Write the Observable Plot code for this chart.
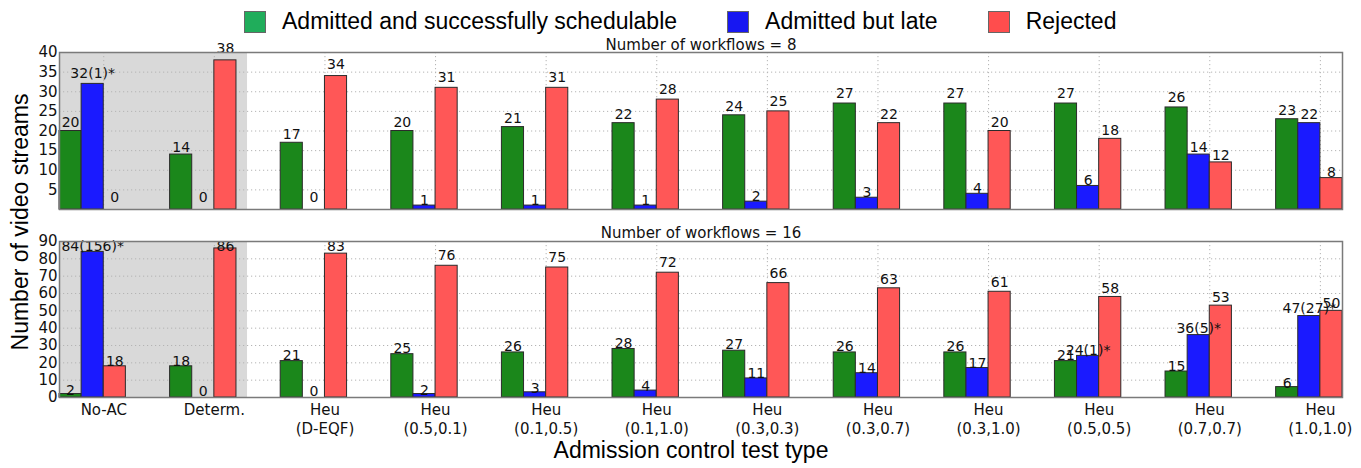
<!DOCTYPE html>
<html>
<head>
<meta charset="utf-8">
<script src="https://cdn.jsdelivr.net/npm/d3@7"></script>
<script src="https://cdn.jsdelivr.net/npm/@observablehq/plot@0.6"></script>
<style>
  html, body { margin: 0; padding: 0; background: #fff; overflow: hidden; }
  #root { position: relative; width: 1361px; height: 468px; background: #fff; }
  .panel { position: absolute; left: 0; }
  #legend { position: absolute; left: 244px; top: 8px; display: flex; align-items: center; gap: 50px;
            font-family: "Liberation Sans", Arial, sans-serif; font-size: 23px; color: #000; white-space: nowrap; }
  .item { display: flex; align-items: center; }
  .swatch { width: 22px; height: 22px; border: 1px solid #666; margin-right: 16px; box-sizing: border-box; }
  #ylabel { position: absolute; left: 20px; top: 222px; transform: translate(-50%, -50%) rotate(-90deg);
            font-family: "Liberation Sans", Arial, sans-serif; font-size: 23px; line-height: 1; white-space: nowrap; color: #000; }
</style>
</head>
<body>
<div id="root"></div>
<script>
// ---- data ----
const categories = ["No-AC", "Determ.", "Heu\n(D-EQF)", "Heu\n(0.5,0.1)", "Heu\n(0.1,0.5)", "Heu\n(0.1,1.0)",
  "Heu\n(0.3,0.3)", "Heu\n(0.3,0.7)", "Heu\n(0.3,1.0)", "Heu\n(0.5,0.5)", "Heu\n(0.7,0.7)", "Heu\n(1.0,1.0)"];
const seriesNames = ["Admitted and successfully schedulable", "Admitted but late", "Rejected"];
const shadedCategories = ["No-AC", "Determ."];

const wf8Admitted = [20, 14, 17, 20, 21, 22, 24, 27, 27, 27, 26, 23];
const wf8Late     = [32, 0, 0, 1, 1, 1, 2, 3, 4, 6, 14, 22];
const wf8Rejected = [0, 38, 34, 31, 31, 28, 25, 22, 20, 18, 12, 8];
const wf8LateLabels = ["32(1)*", null, null, null, null, null, null, null, null, null, null, null];

const wf16Admitted = [2, 18, 21, 25, 26, 28, 27, 26, 26, 21, 15, 6];
const wf16Late     = [84, 0, 0, 2, 3, 4, 11, 14, 17, 24, 36, 47];
const wf16Rejected = [18, 86, 83, 76, 75, 72, 66, 63, 61, 58, 53, 50];
const wf16LateLabels = ["84(156)*", null, null, null, null, null, null, null, null, "24(1)*", "36(5)*", "47(27)*"];

const panelTitles = ["Number of workflows = 8", "Number of workflows = 16"];
const wf8YTicks = [5, 10, 15, 20, 25, 30, 35, 40];
const wf16YTicks = [0, 10, 20, 30, 40, 50, 60, 70, 80, 90];
const xAxisLabel = "Admission control test type";
const yAxisLabel = "Number of video streams";

// ---- styling ----
const barColors = ["#1b871b", "#1a1aff", "#ff5757"];
const legendColors = ["#20ad5b", "#1717f2", "#ff4d4d"];
const barW = 0.2;
const W = 1361;

const root = document.getElementById("root");

function makePanel(opt) {
  const series = [opt.admitted, opt.late, opt.rejected];
  const rows = categories.flatMap((c, i) => series.map((arr, k) => ({
    i, k, series: seriesNames[k], value: arr[i],
    label: (k === 1 && opt.lateLabels[i]) ? opt.lateLabels[i] : String(arr[i])
  })));
  const tickPos = categories.map((c, i) => i + 2 * barW);
  const shade = [{from: categories.indexOf(shadedCategories[0]),
                  to: categories.indexOf(shadedCategories[shadedCategories.length - 1]) + 3.5 * barW}];
  const yMax = opt.yTicks[opt.yTicks.length - 1];
  const marks = [
    Plot.rect(shade, {x1: "from", x2: "to", y1: 0, y2: yMax, fill: "#d9d9d9"}),
    Plot.gridY(opt.yTicks, {stroke: "#b4b4b4", strokeOpacity: 1, strokeDasharray: "1.2,2.8"}),
    Plot.gridX(tickPos, {stroke: "#b4b4b4", strokeOpacity: 1, strokeDasharray: "1.2,2.8"}),
    Plot.rect(rows.filter(d => d.value > 0), {
      x1: d => d.i + d.k * barW, x2: d => d.i + (d.k + 1) * barW,
      y1: 0, y2: "value", fill: "series", stroke: "#2b2b2b", strokeWidth: 1
    }),
    Plot.text(rows, {
      x: d => d.i + (d.k + 0.5) * barW,
      y: d => d.value === 0 ? opt.zeroLift : Math.min(d.value * 1.05, opt.labelCap),
      text: "label", lineAnchor: "bottom", dy: opt.labelDy, fontSize: 14, fill: "#111"
    }),
    Plot.frame({stroke: "#7a7a7a", strokeWidth: 1.5}),
    Plot.axisY(opt.yTicks, {tickSize: 0, tickPadding: 2, fontSize: 15, label: null}),
    Plot.text([opt.title], {frameAnchor: "top", dy: opt.titleDy, lineAnchor: "bottom", fontSize: 15, fill: "#111"})
  ];
  if (opt.showX) {
    marks.push(Plot.axisX(tickPos, {
      tickSize: 0, tickPadding: 4, fontSize: 15, lineHeight: 1.27, label: null,
      tickFormat: d => categories[Math.round(d - 2 * barW)]
    }));
    marks.push(Plot.text([xAxisLabel], {
      frameAnchor: "bottom", dx: -10, dy: 60, lineAnchor: "bottom",
      fontSize: 23, fontFamily: "Liberation Sans, Arial, sans-serif", fill: "#000"
    }));
  } else {
    marks.push(Plot.axisX({ticks: [], label: null}));
  }
  const svg = Plot.plot({
    width: W, height: opt.height,
    marginLeft: 59, marginRight: 19, marginTop: opt.marginTop, marginBottom: opt.marginBottom,
    style: {fontFamily: "DejaVu Sans, sans-serif", fontSize: "15px", color: "#111", background: "transparent", overflow: "visible"},
    x: {domain: [0, categories.length - 1 + 3 * barW], axis: null},
    y: {domain: [0, yMax], axis: null},
    color: {domain: seriesNames, range: barColors},
    marks
  });
  svg.classList.add("panel");
  svg.style.top = opt.top + "px";
  root.appendChild(svg);
}

makePanel({admitted: wf8Admitted, late: wf8Late, rejected: wf8Rejected, lateLabels: wf8LateLabels,
  title: panelTitles[0], yTicks: wf8YTicks, top: 0, height: 215, marginTop: 52, marginBottom: 6,
  showX: false, labelCap: 1000, zeroLift: 1.8, labelDy: 0, titleDy: -3});
makePanel({admitted: wf16Admitted, late: wf16Late, rejected: wf16Rejected, lateLabels: wf16LateLabels,
  title: panelTitles[1], yTicks: wf16YTicks, top: 215, height: 253, marginTop: 26, marginBottom: 71,
  showX: true, labelCap: 85, zeroLift: 1.2, labelDy: 1, titleDy: -4});

// legend
const legend = document.createElement("div");
legend.id = "legend";
seriesNames.forEach((name, k) => {
  const item = document.createElement("div");
  item.className = "item";
  const sw = document.createElement("div");
  sw.className = "swatch";
  sw.style.background = legendColors[k];
  const tx = document.createElement("span");
  tx.textContent = name;
  item.appendChild(sw); item.appendChild(tx);
  legend.appendChild(item);
});
root.appendChild(legend);

const yl = document.createElement("div");
yl.id = "ylabel";
yl.textContent = yAxisLabel;
root.appendChild(yl);
</script>
</body>
</html>
